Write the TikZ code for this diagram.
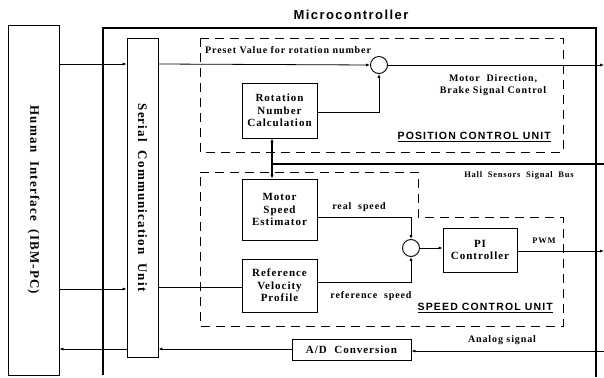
\documentclass[tikz,border=0pt]{standalone}
\usepackage{fontspec}
\setmainfont[LetterSpace=9]{Liberation Serif}
\newfontfamily\hdsans[LetterSpace=11]{Liberation Sans}
\usetikzlibrary{arrows.meta}
\begin{document}
\begin{tikzpicture}[x=1pt,y=-1pt,
  box/.style={draw,line width=0.9pt,inner sep=0pt,align=center,font=\bfseries\fontsize{11}{12.5}\selectfont},
  conn/.style={line width=0.8pt},
  arr/.style={conn,-{Latex[length=4pt,width=3.2pt]}},
  dsh/.style={line width=0.9pt,dash pattern=on 9pt off 6pt},
  sumc/.style={draw,circle,line width=0.9pt,minimum size=17pt,inner sep=0pt},
  lbl/.style={font=\bfseries\fontsize{10}{12}\selectfont,inner sep=0pt},
  unitlbl/.style={font=\hdsans\bfseries\fontsize{10.5}{12}\selectfont,inner sep=0pt}]
\useasboundingbox (0,0) rectangle (604,377);
% containers
\node[draw,line width=0.9pt,minimum width=51pt,minimum height=350pt,inner sep=0pt] (hi) at (33.5,200) {};
\node[rotate=-90,font=\bfseries\fontsize{13}{15}\selectfont] at (hi.center) {Human\ \ Interface\ \ (IBM-PC)};
\draw[line width=2.2pt] (103,375) -- (103,28) -- (596,28) -- (596,377);
\node[font=\hdsans\bfseries\fontsize{13}{15}\selectfont] (mct) at (351,15) {Microcontroller};
\node[draw,line width=0.9pt,minimum width=31pt,minimum height=319pt,inner sep=0pt] (scu) at (142.5,197.5) {};
\node[rotate=-90,font=\bfseries\fontsize{13}{15}\selectfont] at (scu.center) {Serial\ \ Communication\ \ Unit};
% dashed units
\draw[dsh] (200,38) rectangle (563,152);
\draw[dsh] (200,172) -- (418,172) -- (418,217) -- (563,217) -- (563,326) -- (200,326) -- cycle;
% blocks
\node[box,minimum width=75pt,minimum height=55pt] (rnc) at (279.5,110.5) {Rotation\\Number\\Calculation};
\node[box,minimum width=75pt,minimum height=61pt] (mse) at (279.5,209.5) {Motor\\Speed\\Estimator};
\node[box,minimum width=75pt,minimum height=53pt] (rvp) at (279.5,285.5) {Reference\\Velocity\\Profile};
\node[box,minimum width=74pt,minimum height=44pt] (pi) at (480,250) {PI\\Controller};
\node[box,minimum width=119pt,minimum height=21pt] (ad) at (351.5,349.5) {A/D\ \ Conversion};
\node[sumc] (s1) at (379,65) {};
\node[sumc] (s2) at (411,248) {};
% helper coordinates
\coordinate (y64) at (0,64);
\coordinate (y289) at (0,289);
\coordinate (y287) at (0,287);
\coordinate (y349) at (0,349);
\coordinate (y351) at (0,351);
\coordinate (y112) at (0,112);
\coordinate (y217) at (0,217);
\coordinate (y282) at (0,282);
\coordinate (y251) at (0,251);
\coordinate (rE1) at (604,65);
\coordinate (rE2) at (604,164);
\coordinate (rE3) at (604,251);
\coordinate (rE4) at (604,351);
\coordinate (bus) at (272,164);
% connectors
\draw[arr] (hi.east |- y64) -- (scu.west |- y64);
\draw[arr] (scu.east |- y64) -- (s1.west);
\draw[arr] (s1.east) -- (rE1);
\draw[arr] (rnc.east |- y112) -| (s1.south);
\draw[line width=1.6pt,{Latex[length=4pt,width=3.4pt]}-{Latex[length=4pt,width=3.4pt]}] (rnc.south -| bus) -- (mse.north -| bus);
\draw[line width=1.6pt] (bus) -- (rE2);
\draw[arr] (hi.east |- y289) -- (scu.west |- y289);
\draw[conn] (scu.east |- y287) -- (rvp.west |- y287);
\draw[arr] (ad.west |- y349) -- (scu.east |- y349);
\draw[arr] (scu.west |- y349) -- (hi.east |- y349);
\draw[arr] (rE4) -- (ad.east |- y351);
\draw[arr] (mse.east |- y217) -| (s2.north);
\draw[arr] (rvp.east |- y282) -| (s2.south);
\draw[arr] (s2.east) -- (pi.west |- s2.east);
\draw[arr] (pi.east |- y251) -- (rE3);
% labels
\node[lbl,anchor=west] (l1) at (205,50) {Preset Value for rotation number};
\node[lbl,align=center] (l2) at (493,85) {Motor\ \ Direction,\\Brake Signal Control};
\node[unitlbl,anchor=east] (l3) at (551,137) {\underline{POSITION CONTROL UNIT}};
\node[lbl,font=\bfseries\fontsize{8.5}{10}\selectfont] (l4) at (519,175) {Hall\ \ Sensors\ \ Signal\ \ Bus};
\node[lbl] (l5) at (359,207) {real\ \ speed};
\node[lbl] (l6) at (371,296) {reference\ \ speed};
\node[unitlbl,anchor=east] (l7) at (553,308) {\underline{SPEED CONTROL UNIT}};
\node[lbl,font=\bfseries\fontsize{8.5}{10}\selectfont] (l8) at (544,241) {PWM};
\node[lbl] (l9) at (502,340) {Analog signal};
\end{tikzpicture}
\end{document}
